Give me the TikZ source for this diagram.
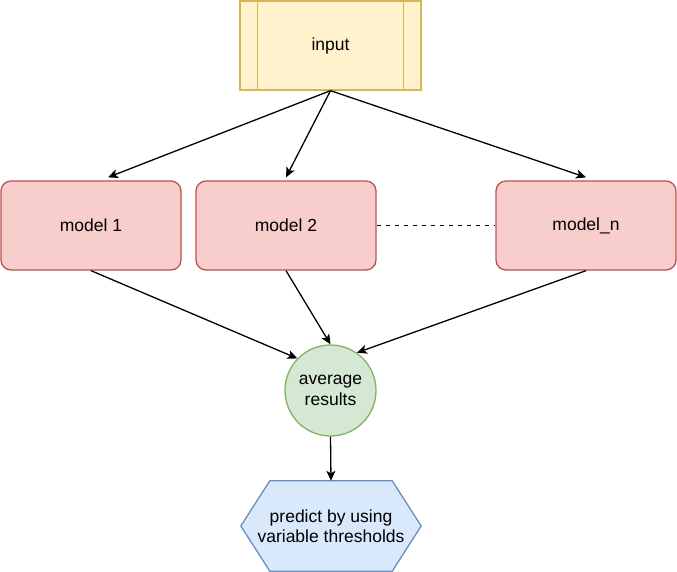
\documentclass[tikz,border=0pt]{standalone}
\usepackage{fontspec}
\setmainfont{Liberation Sans}
\usetikzlibrary{arrows.meta,backgrounds}
\definecolor{inFill}{HTML}{FFF2CC}
\definecolor{inLine}{HTML}{D6B656}
\definecolor{mFill}{HTML}{F8CECC}
\definecolor{mLine}{HTML}{B85450}
\definecolor{aFill}{HTML}{D5E8D4}
\definecolor{aLine}{HTML}{82B366}
\definecolor{pFill}{HTML}{DAE8FC}
\definecolor{pLine}{HTML}{6C8EBF}
\tikzset{
  every node/.style={font=\fontsize{17.5}{20.5}\selectfont, inner sep=0pt},
  modelbox/.style={draw=mLine, fill=mFill, line width=1.3pt, rounded corners=10pt,
    minimum width=180pt, minimum height=89pt},
  inbox/.style={draw=inLine, fill=inFill, line width=1.3pt, minimum width=181pt, minimum height=89pt},
  avgcircle/.style={circle, draw=aLine, fill=aFill, line width=1.3pt, minimum size=91pt, align=center},
  hexlabel/.style={minimum width=180pt, minimum height=90pt, align=center},
  conn/.style={line width=1.3pt, -{Stealth[length=10pt,width=9pt,inset=2.5pt]}},
}
\begin{document}
\begin{tikzpicture}[x=1pt,y=-1pt]
\useasboundingbox (0,0) rectangle (677,572);
\node[inbox] (inp) at (330.5,45.5) {input};
\draw[inLine, line width=1.3pt] ([xshift=18pt]inp.north west) -- ([xshift=18pt]inp.south west);
\draw[inLine, line width=1.3pt] ([xshift=-18pt]inp.north east) -- ([xshift=-18pt]inp.south east);
\node[modelbox] (m1) at (91,225.5) {model 1};
\node[modelbox] (m2) at (286,225.5) {model 2};
\node[modelbox] (mn) at (586,225.5) {model\_n};
\node[avgcircle] (avg) at (330.5,390.5) {average\\results};
\node[hexlabel] (pred) at (331,526) {predict by using\\variable thresholds};
\begin{scope}[on background layer]
\draw[draw=pLine, fill=pFill, line width=1.3pt, line join=miter]
  (pred.west) -- ([xshift=29pt]pred.north west) -- ([xshift=-29pt]pred.north east)
  -- (pred.east) -- ([xshift=-29pt]pred.south east) -- ([xshift=29pt]pred.south west) -- cycle;
\end{scope}
\draw[conn] (inp.south) -- ([xshift=17pt,yshift=3pt]m1.north);
\draw[conn] (inp.south) -- ([yshift=3pt]m2.north);
\draw[conn] (inp.south) -- ([yshift=3pt]mn.north);
\draw[line width=1.3pt, dash pattern=on 4.5pt off 4.5pt] (m2.east) -- (mn.east -| mn.west);
\draw[conn] (m1.south) -- (avg.136);
\draw[conn] (m2.south) -- (avg.90);
\draw[conn] (mn.south) -- (avg.55);
\draw[conn] (avg.south) -- (pred.north);
\end{tikzpicture}
\end{document}
